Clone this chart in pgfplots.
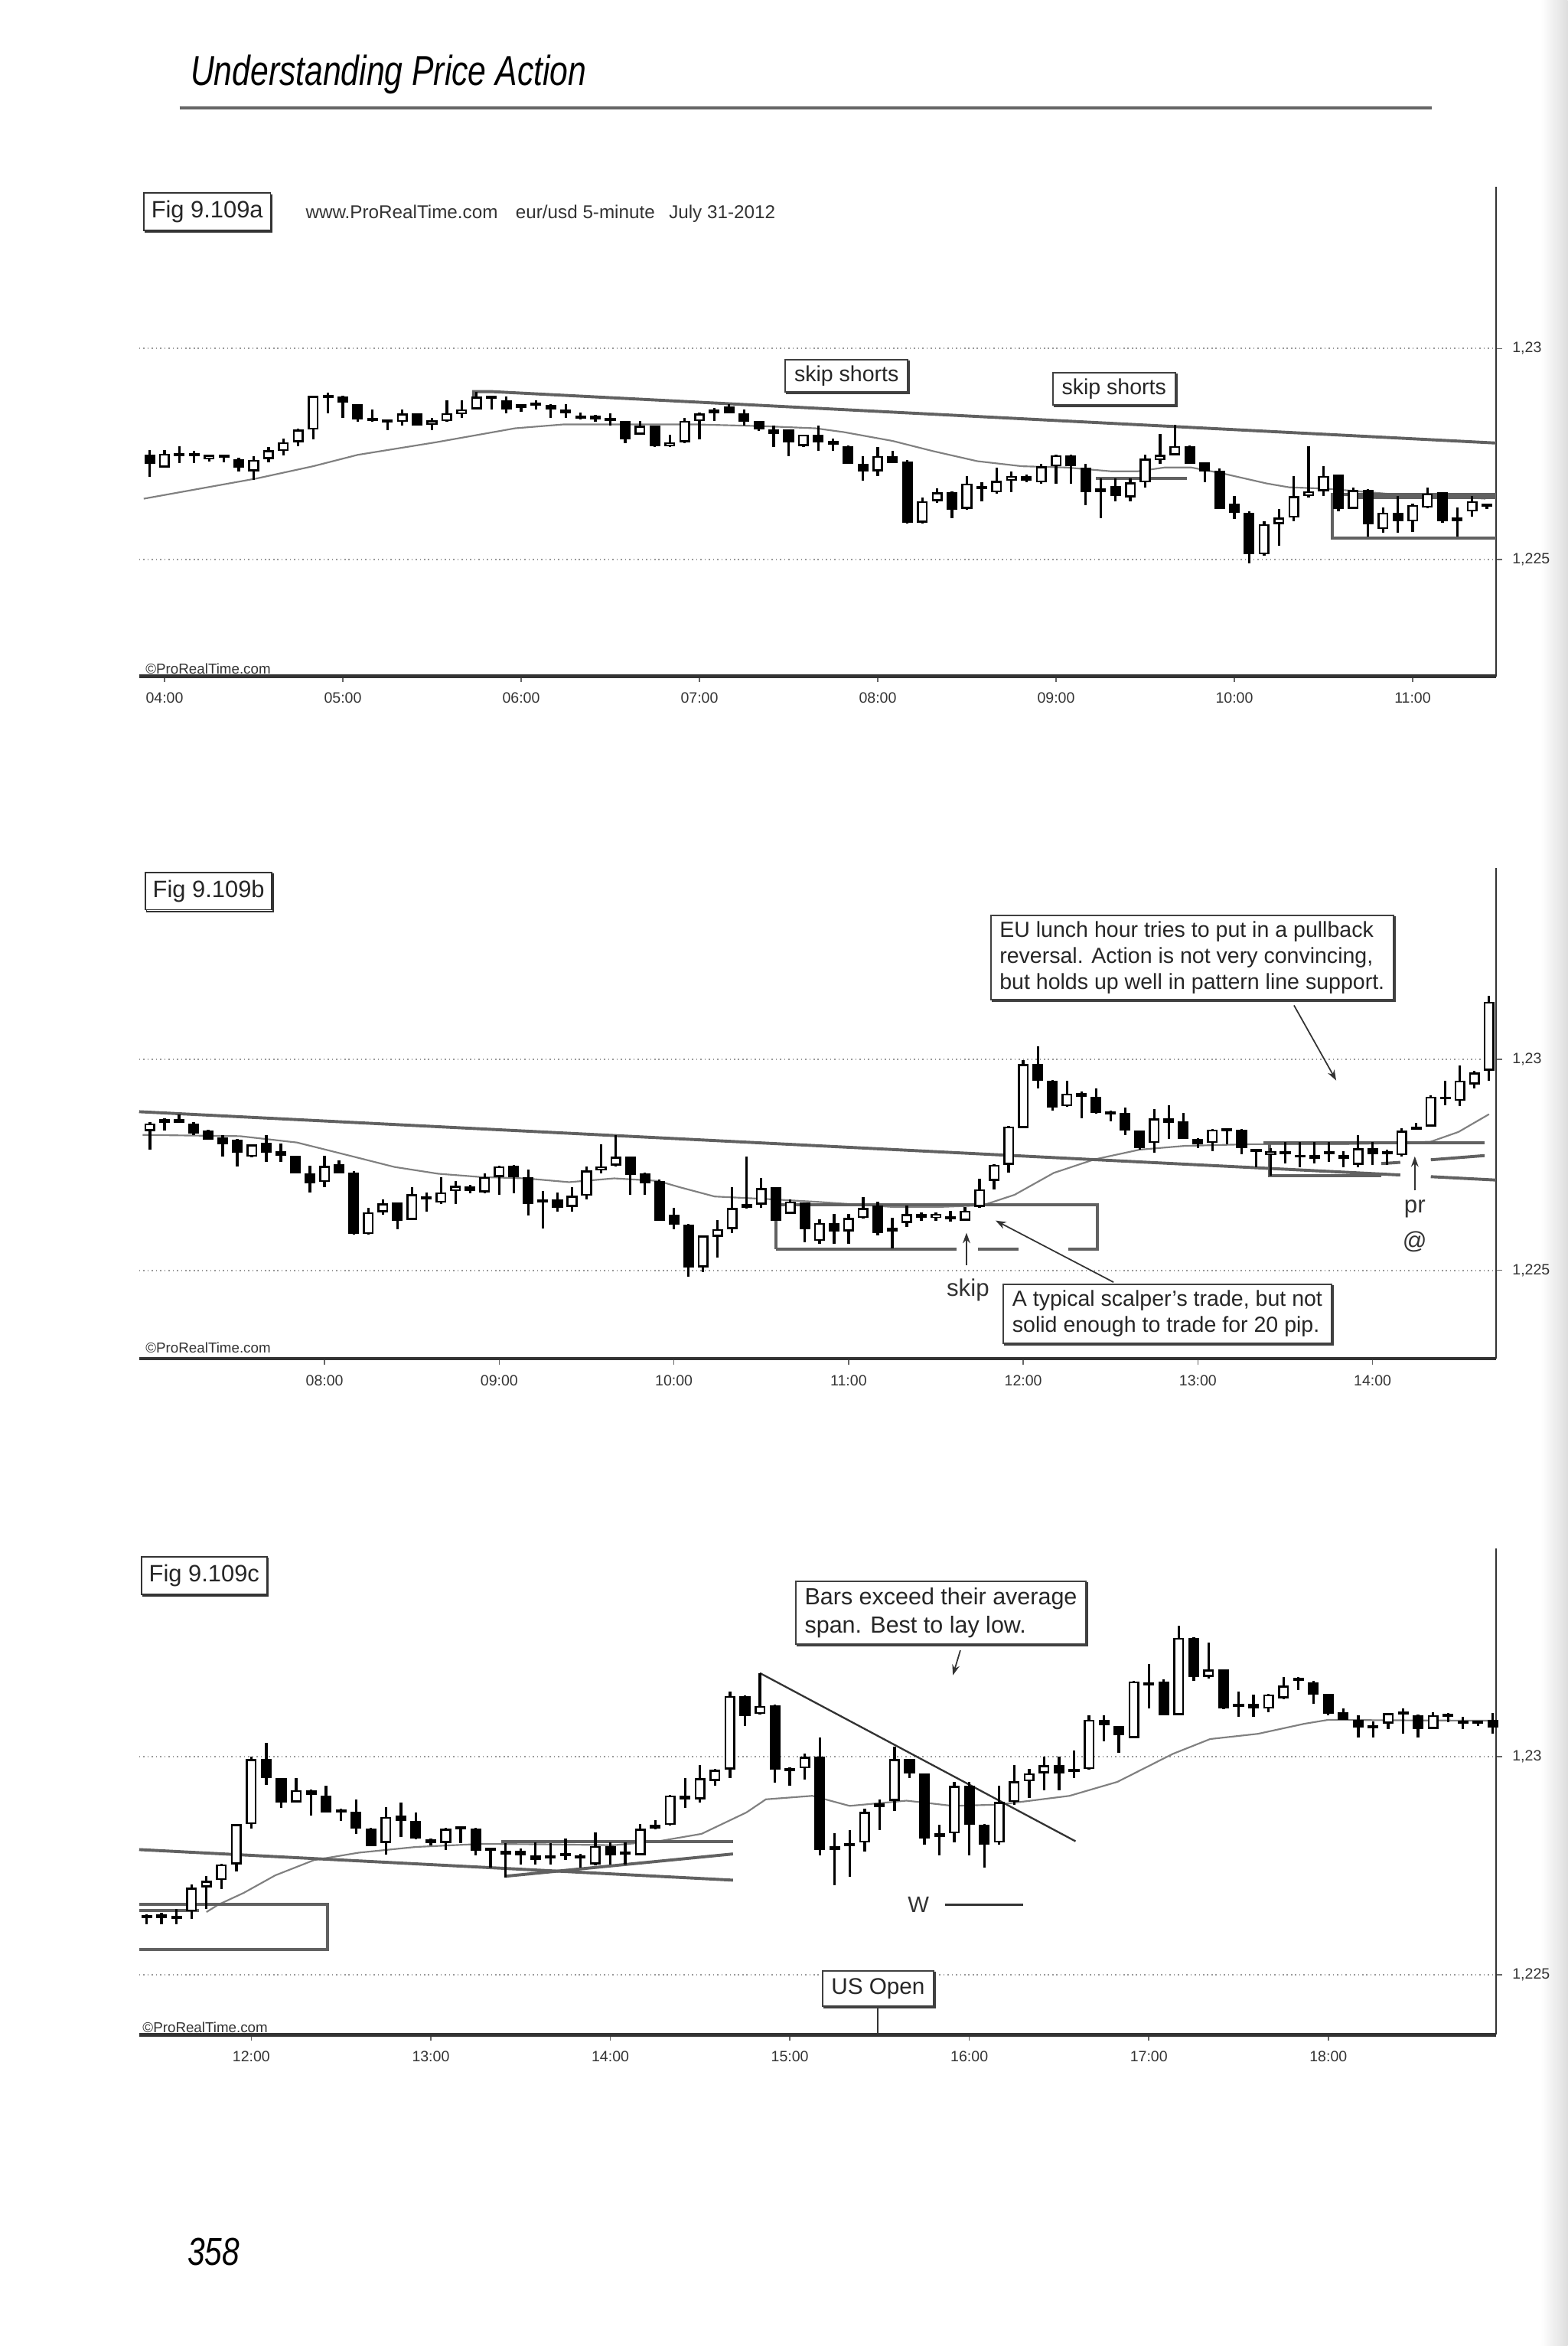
\documentclass[border=0pt]{standalone}
\usepackage{fontspec}
\setmainfont{Liberation Sans}
\usepackage{graphicx}
\usepackage{pgfplots}
\usepackage{pgfplotstable}
\pgfplotsset{compat=1.18}
\usetikzlibrary{shadows,arrows.meta}

% 5-minute candles, k = bar number (0 = first tick hour), prices in pips above 1.2200
\pgfplotstableread{
k o h l c
-1 74.8 76.0 69.6 72.7
0 71.8 75.9 71.8 75.1
1 74.9 76.8 72.9 74.7
2 74.7 75.7 72.9 74.9
3 73.8 74.8 73.2 74.8
4 74.6 74.8 73.0 74.5
5 73.8 74.2 70.8 71.8
6 70.9 74.5 68.9 73.6
7 73.8 76.6 73.0 75.9
8 75.7 78.7 74.7 77.8
9 77.8 81.1 76.9 80.8
10 80.8 88.8 78.4 88.8
11 88.8 89.5 84.7 88.4
12 88.6 88.8 83.5 87.1
13 86.8 86.8 82.6 83.2
14 83.5 85.6 82.7 82.9
15 83.0 83.2 80.6 82.8
16 82.6 85.6 81.7 84.6
17 84.6 84.7 81.7 81.8
18 82.0 83.5 80.6 83.0
19 82.8 87.8 82.6 84.7
20 84.4 87.7 83.6 85.6
21 85.6 89.8 85.6 88.6
22 88.6 88.9 85.6 88.2
23 87.7 88.6 84.7 85.6
24 85.9 86.9 85.0 86.8
25 86.9 87.7 85.6 86.7
26 86.6 86.8 83.5 85.6
27 85.6 86.8 83.5 84.7
28 84.1 84.8 83.2 83.5
29 84.1 84.3 82.6 83.2
30 83.6 84.7 81.8 82.8
31 82.8 82.8 77.5 78.4
32 79.6 82.8 79.5 81.7
33 81.7 81.8 76.6 76.8
34 76.8 79.5 76.6 77.8
35 77.8 83.6 77.6 82.9
36 82.8 84.8 78.4 84.6
37 84.7 85.9 82.9 85.6
38 86.2 86.8 84.6 84.7
39 84.7 85.6 81.7 82.6
40 82.8 82.9 80.5 80.8
41 80.8 81.7 76.6 79.8
42 80.8 80.9 74.5 77.8
43 76.9 79.6 76.6 79.6
44 79.6 81.7 75.7 77.8
45 78.1 78.7 75.7 77.2
46 76.9 77.0 72.6 72.7
47 72.7 74.5 68.6 70.9
48 70.9 76.6 69.8 74.5
49 74.5 75.7 72.8 72.9
50 73.3 73.6 58.6 58.7
51 58.7 64.7 58.6 63.8
52 63.8 66.8 63.5 65.9
53 65.9 66.2 59.7 61.7
54 62.0 69.8 61.7 68.0
55 67.0 68.3 63.8 67.2
56 65.9 71.8 65.6 68.6
57 68.7 70.9 65.9 69.8
58 69.8 70.1 68.3 68.7
59 68.3 72.7 68.0 72.1
60 72.1 74.8 68.0 74.7
61 74.7 74.8 68.0 72.1
62 71.8 72.7 62.9 65.9
63 66.0 69.2 59.7 66.9
64 67.4 69.2 63.8 65.0
65 64.7 69.2 63.8 68.3
66 68.3 74.8 67.1 73.9
67 73.6 79.8 72.7 74.8
68 74.7 82.0 74.6 76.9
69 76.9 77.0 72.6 72.7
70 73.0 73.1 68.3 70.9
71 71.1 71.5 61.9 62.0
72 63.2 65.0 59.6 61.1
73 61.1 61.4 49.1 51.2
74 51.2 59.0 50.9 58.4
75 58.4 62.0 53.3 59.9
76 59.9 69.8 59.0 65.0
77 65.0 76.9 64.7 66.2
78 66.2 72.1 65.0 69.8
79 70.1 70.2 61.4 62.0
80 62.0 67.1 61.9 66.5
81 66.5 66.6 55.4 58.4
82 57.2 62.3 56.3 61.1
83 61.1 65.0 56.3 59.0
84 59.0 63.2 56.6 62.9
85 62.3 67.1 62.2 65.6
86 65.9 66.0 58.7 59.0
87 59.0 62.3 55.4 59.9
88 61.4 65.0 60.2 63.8
89 63.2 63.3 62.0 62.6
}\candA

\pgfplotstableread{
k o h l c
-12 83.0 85.1 78.6 84.8
-11 85.0 86.0 83.2 85.9
-10 85.9 86.9 84.9 85.0
-9 84.8 85.1 82.1 82.4
-8 83.2 83.3 80.9 81.0
-7 81.5 82.1 76.9 79.8
-6 80.9 81.2 74.7 77.9
-5 76.9 79.9 76.8 79.8
-4 80.2 82.1 75.7 77.9
-3 78.2 80.0 75.7 77.2
-2 77.1 77.2 72.9 73.0
-1 73.0 74.8 68.5 70.6
0 70.9 77.1 69.7 74.8
1 75.1 76.0 72.9 73.0
2 73.1 73.6 58.5 58.6
3 58.6 64.8 58.5 63.8
4 63.8 66.9 63.2 65.9
5 66.0 66.1 59.7 61.8
6 62.0 69.7 61.9 68.0
7 67.1 68.5 63.9 67.3
8 66.0 72.1 65.7 68.5
9 68.8 71.2 65.7 70.0
10 69.9 70.3 68.2 68.8
11 68.5 73.0 68.2 72.1
12 72.1 74.8 67.9 74.7
13 74.8 74.9 68.2 72.1
14 72.1 73.9 63.0 65.7
15 66.0 68.8 60.0 66.8
16 66.9 68.5 63.9 64.8
17 65.0 69.7 63.9 67.7
18 67.7 74.7 66.9 73.7
19 73.7 79.8 73.0 74.7
20 74.8 82.0 74.7 76.9
21 76.9 77.0 67.9 72.7
22 73.0 73.1 67.9 70.7
23 71.1 71.5 61.7 61.8
24 63.2 64.8 59.7 60.9
25 60.9 61.0 48.5 50.7
26 50.7 58.3 49.5 58.2
27 58.0 62.0 53.0 59.8
28 59.8 69.7 58.8 64.8
29 64.8 76.9 64.7 65.7
30 65.6 71.9 64.8 69.5
31 69.7 69.8 61.7 61.8
32 63.4 66.9 63.3 66.3
33 66.0 66.1 56.6 59.7
34 57.0 62.1 56.3 61.2
35 61.2 63.4 56.3 59.2
36 59.2 63.4 56.3 62.4
37 62.4 67.3 62.3 64.8
38 65.4 66.3 58.3 58.9
39 59.2 62.4 55.2 60.1
40 61.2 65.4 60.2 63.3
41 63.3 63.7 61.8 62.4
42 62.4 63.7 61.8 63.4
43 62.5 64.1 61.5 62.3
44 61.8 65.0 61.7 64.1
45 65.0 71.8 64.9 69.2
46 71.2 75.1 69.2 75.0
47 75.0 84.2 73.1 84.1
48 83.7 99.9 83.6 98.9
49 98.9 103.1 93.1 95.0
50 95.0 95.1 87.9 88.6
51 88.9 95.0 88.8 91.9
52 92.1 92.4 86.0 91.2
53 91.2 93.1 87.2 87.3
54 87.4 87.9 85.4 87.2
55 87.3 88.6 82.1 83.1
56 83.1 83.2 78.6 78.9
57 80.2 88.3 77.9 86.0
58 86.0 89.2 81.2 85.0
59 85.4 87.3 81.1 81.2
60 81.2 81.3 78.9 79.9
61 80.2 83.5 78.3 83.4
62 83.4 83.5 79.9 83.2
63 83.4 83.5 77.6 78.9
64 78.6 78.7 74.4 78.4
65 77.3 78.9 72.4 78.3
66 78.3 80.5 75.4 77.6
67 77.3 80.5 74.4 76.8
68 76.4 80.5 75.4 77.3
69 77.8 80.5 75.7 78.0
70 77.3 78.3 74.4 76.4
71 75.0 82.1 74.4 78.9
72 78.9 80.5 75.0 77.6
73 77.6 78.6 75.0 78.3
74 77.3 83.7 77.0 83.1
75 83.4 85.0 83.3 84.1
76 84.1 91.5 84.0 91.2
77 90.5 95.0 89.2 91.2
78 90.2 98.6 88.9 95.0
79 94.1 97.3 93.1 96.9
80 97.3 115.0 95.0 113.7
}\candB

\pgfplotstableread{
k o h l c
-7 63.7 63.9 61.6 63.0
-6 63.0 64.2 61.6 63.8
-5 63.2 65.1 61.6 63.0
-4 64.5 70.8 62.8 70.0
-3 70.1 72.6 65.1 71.6
-2 71.7 75.4 69.7 75.3
-1 75.3 84.6 73.7 84.5
0 84.5 100.0 83.5 99.4
1 99.4 103.2 93.5 95.0
2 95.0 95.1 88.3 89.5
3 89.5 95.1 89.4 92.3
4 92.3 92.4 86.4 91.2
5 91.1 93.3 87.1 87.2
6 87.6 88.1 85.2 87.4
7 87.3 90.2 82.3 83.5
8 83.5 83.6 79.4 79.5
9 80.2 88.5 77.6 86.2
10 86.4 89.5 81.5 85.2
11 85.2 87.2 81.1 81.2
12 81.0 81.2 79.7 80.2
13 80.2 83.6 78.6 83.5
14 83.7 83.8 80.2 83.5
15 83.5 83.6 77.4 78.5
16 78.9 79.0 74.6 78.7
17 77.6 80.2 72.3 78.5
18 78.5 78.9 75.3 77.4
19 77.3 80.3 75.3 76.4
20 76.6 80.2 75.3 77.3
21 77.5 81.2 76.4 77.7
22 77.3 77.7 74.5 76.6
23 75.3 82.6 75.1 79.5
24 79.5 80.4 75.3 77.4
25 77.6 80.3 75.3 78.3
26 77.4 84.5 77.3 83.5
27 83.5 85.4 83.3 84.3
28 84.3 91.2 84.2 91.1
29 90.2 95.0 88.3 91.0
30 90.2 98.1 89.5 95.0
31 94.4 97.1 93.3 97.0
32 97.0 114.8 95.0 113.9
33 113.9 114.0 107.0 109.3
34 109.7 119.1 109.6 111.6
35 111.8 111.9 94.1 97.0
36 97.1 97.6 93.3 96.9
37 97.3 100.7 94.7 99.9
38 100.0 104.3 77.4 78.6
39 78.6 82.4 70.5 79.5
40 79.7 83.2 72.5 79.9
41 80.3 88.1 78.3 87.3
42 88.5 90.2 83.2 89.3
43 89.9 102.3 87.6 99.4
44 99.4 99.5 95.1 96.2
45 96.1 96.2 79.8 81.2
46 81.5 84.4 77.4 82.4
47 82.4 94.2 80.3 93.3
48 93.3 94.2 77.4 84.4
49 84.4 84.5 74.6 79.8
50 80.3 93.3 79.8 89.6
51 89.6 98.0 89.0 94.3
52 94.3 97.1 90.5 96.2
53 96.2 100.0 92.2 98.0
54 98.0 100.0 92.2 96.2
55 96.4 101.3 95.1 97.2
56 97.1 109.4 97.0 108.4
57 108.4 109.4 103.5 107.2
58 106.9 107.0 100.9 104.9
59 104.2 117.3 104.1 117.2
60 116.2 121.1 111.0 117.0
61 117.2 117.6 109.4 109.5
62 109.5 130.0 109.4 127.2
63 127.2 127.3 117.3 118.2
64 118.2 126.1 117.9 119.9
65 119.9 120.0 110.9 111.0
66 111.3 114.9 109.1 112.1
67 112.1 114.2 109.1 111.0
68 111.0 114.3 110.1 114.2
69 113.3 118.2 113.2 116.2
70 117.5 118.2 115.3 117.7
71 117.0 117.3 112.1 114.2
72 114.3 114.4 109.5 109.8
73 110.1 111.0 108.3 108.4
74 108.4 109.5 104.3 106.6
75 106.5 108.1 104.3 107.2
76 107.5 110.0 106.3 109.9
77 109.8 111.1 105.2 110.0
78 109.5 109.6 104.3 106.3
79 106.3 110.1 106.2 109.5
80 109.6 109.9 107.8 109.4
81 108.2 109.0 106.3 107.5
82 107.5 108.2 106.9 108.1
83 108.4 109.9 105.2 106.6
}\candC

\newcommand{\candles}[2]{%
  \addplot[draw=none, mark=none, error bars/.cd, y dir=both, y explicit, error mark=none,
    error bar style={draw=black, line width=0.85pt, solid}]
    table[x=k, y expr={(\thisrow{h}+\thisrow{l})/2}, y error expr={(\thisrow{h}-\thisrow{l})/2}] {#1};
  \addplot[draw=none, mark=none, error bars/.cd, y dir=both, y explicit, error mark=none,
    error bar style={draw=black, line width=3.6pt, solid}]
    table[x=k, y expr={(\thisrow{o}+\thisrow{c})/2}, y error expr={max(abs(\thisrow{o}-\thisrow{c})/2,0.35)}] {#1};
  \addplot[draw=none, mark=none, error bars/.cd, y dir=both, y explicit, error mark=none,
    error bar style={draw=white, line width=2.3pt, solid}]
    table[x=k, y expr={(\thisrow{o}+\thisrow{c})/2}, y error expr={max((\thisrow{c}-\thisrow{o})/2-#2,0)}] {#1};
}

\pgfplotsset{
  pachart/.style={
    scale only axis, clip=false,
    axis x line*=bottom, axis y line*=right,
    x axis line style={-, line width=1.1pt, black!80},
    y axis line style={-, line width=0.6pt, black!80},
    tick align=outside, major tick length=2pt,
    tick style={black!60, line width=0.4pt},
    ytick={50,100}, yticklabels={{1,225},{1,23}},
    ymajorgrids,
    grid style={densely dotted, black!40, line width=0.5pt},
    xticklabel style={font=\fontsize{5}{6}\selectfont, text=black!80},
    yticklabel style={font=\fontsize{5}{6}\selectfont, text=black!80},
  },
  ma/.style={black!50, line width=0.55pt},
  pat/.style={black!62, line width=1pt},
}
\tikzset{
  figbox/.style={draw=black!80, line width=0.5pt, fill=white, inner xsep=2.5pt, inner ysep=2pt,
    minimum height=12.5pt, font=\fontsize{7.9}{9}\selectfont, text=black!85,
    copy shadow={shadow xshift=0.4pt, shadow yshift=-0.6pt}},
  callout/.style={draw=black!75, line width=0.5pt, fill=white, inner xsep=3pt, inner ysep=2pt,
    font=\fontsize{7.3}{8.7}\selectfont, align=left, text=black!85,
    copy shadow={shadow xshift=0.5pt, shadow yshift=-0.5pt}},
  arr/.style={black!80, line width=0.45pt, -{Stealth[length=3.5pt, width=2.5pt]}},
  small/.style={font=\fontsize{4.8}{6}\selectfont, text=black!80, inner sep=0pt, anchor=west},
}

\begin{document}
\begin{tikzpicture}
\useasboundingbox (0pt,0pt) rectangle (524pt,-784pt);
\shade[left color=white, right color=black!13] (515pt,0pt) rectangle (524pt,-784pt);

% page header
\node[anchor=base west, inner sep=0pt] at (63.5pt,-28.5pt)
  {\fontsize{14}{16}\selectfont\itshape\scalebox{0.78}[1]{Understanding Price Action}};
\draw[line width=1.1pt, black!60] (60pt,-36pt) -- (478.5pt,-36pt);
\node[anchor=base west, inner sep=0pt] at (62.5pt,-757pt)
  {\fontsize{13}{15}\selectfont\itshape\scalebox{0.8}[1]{358}};

% ---------------- Fig 9.109a ----------------
\node[figbox] at (69.25pt,-70.75pt) {Fig 9.109a};
\node[anchor=west, inner sep=0pt, font=\fontsize{6.2}{7}\selectfont, text=black!80] at (102pt,-71.5pt)
  {www.ProRealTime.com\hspace{6pt}eur/usd 5-minute\hspace{3pt} July 31-2012};
\node[small] at (48.5pt,-223.5pt) {\textcopyright ProRealTime.com};

\begin{axis}[pachart, at={(46.5pt,-226pt)}, anchor=south west,
  width=453.5pt, height=163.5pt,
  xmin=-1.71, xmax=89.6, ymin=22.3, ymax=138.3,
  xtick={0,12,...,84},
  xticklabels={04:00,05:00,06:00,07:00,08:00,09:00,10:00,11:00}]
\addplot[ma] coordinates {(-1.4,64.4) (6.2,69.2) (10.0,72.1) (13.0,74.8) (18.3,77.8) (23.6,81.1)
  (26.8,82.0) (30.0,82.0) (35.9,82.0) (40.3,81.6) (43.8,81.1) (45.7,80.2) (49.0,78.1) (51.7,75.7)
  (54.7,73.3) (57.7,72.1) (60.7,71.8) (63.7,70.9) (65.5,70.9) (67.3,71.8) (69.1,71.8) (71.2,70.4)
  (74.2,68.0) (75.7,67.1) (78.1,66.8) (80.2,66.2) (83.2,65.3) (86.2,65.0) (88.9,64.4)};
\addplot[pat] coordinates {(20.8,88.6) (20.8,89.8) (22.0,89.8) (89.6,77.6)};
\addplot[pat] coordinates {(62.7,69.3) (68.8,69.3)};
\addplot[pat] coordinates {(89.6,65.4) (78.6,65.4) (78.6,55.0) (89.6,55.0)};
\addplot[pat] coordinates {(80.0,64.7) (89.6,64.7)};
\candles{\candA}{0.46}
\node[callout] at (axis cs:45.9,93.6) {skip shorts};
\node[callout] at (axis cs:63.9,90.4) {skip shorts};
\end{axis}

% ---------------- Fig 9.109b ----------------
\node[figbox] at (69.75pt,-297.75pt) {Fig 9.109b};
\node[small] at (48.5pt,-450.5pt) {\textcopyright ProRealTime.com};

\begin{axis}[pachart, at={(46.5pt,-454pt)}, anchor=south west,
  width=453.5pt, height=164pt,
  xmin=-12.74, xmax=80.47, ymin=29.1, ymax=145.4,
  xtick={0,12,...,72},
  xticklabels={08:00,09:00,10:00,11:00,12:00,13:00,14:00}]
\addplot[ma] coordinates {(-12.5,82.1) (-5.8,81.8) (-1.9,80.3) (1.7,77.2) (4.8,74.5) (7.8,72.9)
  (10.8,72.1) (13.8,71.8) (16.8,70.9) (19.9,71.8) (22.9,71.2) (24.4,69.7) (26.8,67.5) (30.4,66.9)
  (34.0,66.2) (39.1,65.0) (42.1,65.0) (45.2,65.4) (47.4,67.9) (50.1,73.1) (52.9,76.3) (56.0,78.6)
  (59.1,79.5) (63.7,79.9) (66.8,79.9) (69.9,79.9) (72.9,80.1) (76.0,80.5) (77.9,82.8) (80.0,87.0)};
\addplot[pat] coordinates {(-12.74,87.6) (73.9,72.6)};
\addplot[pat] coordinates {(76.0,72.2) (80.47,71.4)};
\addplot[pat] coordinates {(64.5,80.3) (79.7,80.3)};
\addplot[pat] coordinates {(64.9,80.3) (64.9,72.4) (72.6,72.4)};
\addplot[pat] coordinates {(72.6,75.3) (73.9,75.6)};
\addplot[pat] coordinates {(76.0,76.2) (79.7,77.2)};
\addplot[pat] coordinates {(31.0,55.0) (31.0,65.5) (53.1,65.5) (53.1,55.0) (51.1,55.0)};
\addplot[pat] coordinates {(31.0,55.0) (43.4,55.0)};
\addplot[pat] coordinates {(44.9,55.0) (47.7,55.0)};
\candles{\candB}{0.46}
\draw[arr] (axis cs:44.1,51.2) -- (axis cs:44.1,58.9);
\node[font=\fontsize{8}{9}\selectfont, text=black!80] at (axis cs:44.2,45.4) {skip};
\draw[arr] (axis cs:74.9,68.9) -- (axis cs:74.9,77.0);
\node[font=\fontsize{8}{9}\selectfont, text=black!80] at (axis cs:74.9,64.5) {pr};
\node[font=\fontsize{8}{9}\selectfont, text=black!80] at (axis cs:74.9,56.7) {@};
\draw[arr] (axis cs:66.6,112.8) -- (axis cs:69.5,95.0);
\draw[arr] (axis cs:54.2,47.2) -- (axis cs:46.1,61.8);
\node[callout] at (axis cs:59.6,124.1) {EU lunch hour tries to put in a pullback\\reversal. Action is not very convincing,\\but holds up well in pattern line support.};
\node[callout] at (axis cs:57.9,39.7) {A typical scalper's trade, but not\\solid enough to trade for 20 pip.};
\end{axis}

% ---------------- Fig 9.109c ----------------
\node[figbox] at (68.25pt,-526.5pt) {Fig 9.109c};
\node[small] at (47.5pt,-677.5pt) {\textcopyright ProRealTime.com};

\begin{axis}[pachart, at={(46.5pt,-680pt)}, anchor=south west,
  width=453.5pt, height=162.5pt,
  xmin=-7.5, xmax=83.2, ymin=36.3, ymax=147.6,
  xtick={0,12,...,72},
  xticklabels={12:00,13:00,14:00,15:00,16:00,17:00,18:00}]
\addplot[ma] coordinates {(-3.0,64.4) (-2.2,66.1) (-0.5,68.8) (1.6,72.8) (4.2,76.3) (7.2,78.0)
  (11.0,79.3) (15.4,80.0) (19.8,79.9) (24.2,79.7) (27.2,80.6) (30.1,82.3) (33.1,87.2) (34.4,90.2)
  (37.5,91.0) (40.0,88.7) (43.8,89.9) (46.9,88.7) (50.0,89.0) (54.7,91.0) (57.9,94.2) (61.6,100.6)
  (64.1,104.0) (67.3,105.2) (70.4,107.5) (72.0,108.4) (76.0,108.3) (83.0,108.2)};
\addplot[pat] coordinates {(-7.5,66.1) (5.1,66.1) (5.1,55.9) (-7.5,55.9)};
\addplot[pat] coordinates {(-7.5,64.8) (-3.5,64.8)};
\addplot[pat] coordinates {(-7.5,78.7) (32.2,71.7)};
\addplot[pat] coordinates {(16.7,80.6) (32.2,80.6)};
\addplot[pat] coordinates {(17.0,72.6) (32.2,77.7)};
\addplot[black!80, line width=0.6pt] coordinates {(34.0,119.1) (55.1,80.6)};
\addplot[black!80, line width=0.8pt] coordinates {(46.4,66.1) (51.6,66.1)};
\addplot[black!80, line width=0.5pt] coordinates {(41.9,42.4) (41.9,36.3)};
\candles{\candC}{0.45}
\node[font=\fontsize{7.5}{9}\selectfont, text=black!80] at (axis cs:44.6,66.1) {W};
\node[callout, font=\fontsize{7.8}{9.5}\selectfont] at (axis cs:46.1,132.9) {Bars exceed their average\\span. Best to lay low.};
\draw[arr] (axis cs:47.4,124.3) -- (axis cs:46.9,118.6);
\node[callout, font=\fontsize{7.6}{9}\selectfont, inner ysep=2.5pt] at (axis cs:41.9,46.9) {US Open};
\end{axis}
\end{tikzpicture}
\end{document}
